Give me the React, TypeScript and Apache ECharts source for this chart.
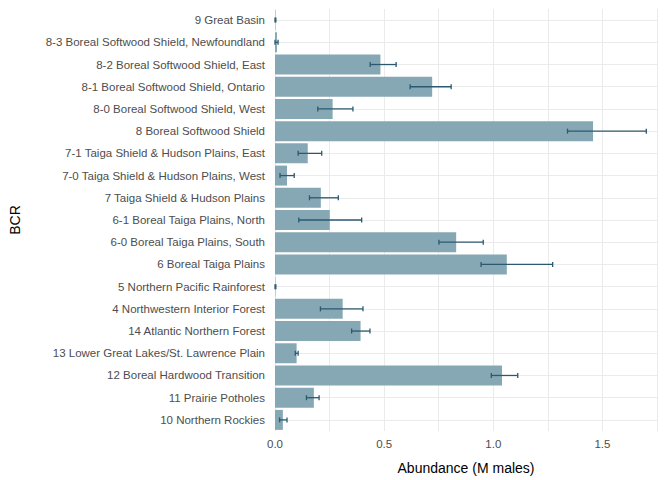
import { useEffect, useRef } from 'react'
import * as echarts from 'echarts'

// bottom → top
const CATEGORIES = [
  '10 Northern Rockies',
  '11 Prairie Potholes',
  '12 Boreal Hardwood Transition',
  '13 Lower Great Lakes/St. Lawrence Plain',
  '14 Atlantic Northern Forest',
  '4 Northwestern Interior Forest',
  '5 Northern Pacific Rainforest',
  '6 Boreal Taiga Plains',
  '6-0 Boreal Taiga Plains, South',
  '6-1 Boreal Taiga Plains, North',
  '7 Taiga Shield & Hudson Plains',
  '7-0 Taiga Shield & Hudson Plains, West',
  '7-1 Taiga Shield & Hudson Plains, East',
  '8 Boreal Softwood Shield',
  '8-0 Boreal Softwood Shield, West',
  '8-1 Boreal Softwood Shield, Ontario',
  '8-2 Boreal Softwood Shield, East',
  '8-3 Boreal Softwood Shield, Newfoundland',
  '9 Great Basin',
]
const ABUNDANCE = [0.036, 0.178, 1.04, 0.099, 0.392, 0.31, 0.002, 1.062, 0.83, 0.251, 0.21, 0.055, 0.15, 1.457, 0.264, 0.72, 0.483, 0.009, 0.002]
const LOWER = [0.021, 0.144, 0.991, 0.093, 0.351, 0.208, 0.0, 0.944, 0.751, 0.109, 0.158, 0.023, 0.106, 1.34, 0.196, 0.619, 0.436, 0.0, 0.0]
const UPPER = [0.055, 0.202, 1.112, 0.106, 0.435, 0.403, 0.004, 1.272, 0.954, 0.397, 0.29, 0.088, 0.214, 1.701, 0.357, 0.807, 0.555, 0.014, 0.004]

const FONT = '"Liberation Sans", Arial, sans-serif'
const BAR = '#86a8b4'
const ERR = '#2b5970'

export default function App() {
  const ref = useRef<HTMLDivElement>(null)

  useEffect(() => {
    if (!ref.current) return
    const chart = echarts.init(ref.current, undefined, { renderer: 'svg' })
    chart.setOption({
      animation: false,
      backgroundColor: '#fff',
      grid: { left: 273, right: 15, top: 9, bottom: 43 },
      xAxis: {
        type: 'value',
        min: 0,
        max: 1.75,
        interval: 0.25,
        name: 'Abundance (M males)',
        nameLocation: 'middle',
        nameGap: 30,
        nameTextStyle: { fontSize: 14, color: '#000', fontFamily: FONT },
        axisLabel: {
          fontSize: 11.5,
          color: '#4d4d4d',
          fontFamily: FONT,
          margin: 7,
          formatter: (v: number) => (Math.abs(v * 2 - Math.round(v * 2)) < 1e-6 ? v.toFixed(1) : ''),
        },
        axisLine: { show: false },
        axisTick: { show: false },
        splitLine: { lineStyle: { color: '#ebebeb', width: 1 } },
      },
      yAxis: {
        type: 'category',
        data: CATEGORIES,
        name: 'BCR',
        nameLocation: 'middle',
        nameGap: 253,
        nameRotate: 90,
        nameTextStyle: { fontSize: 14, color: '#000', fontFamily: FONT },
        axisLabel: { fontSize: 11.5, color: '#4d4d4d', fontFamily: FONT, margin: 10 },
        axisLine: { show: false },
        axisTick: { show: false },
        splitLine: { show: false },
      },
      series: [
        {
          type: 'bar',
          data: ABUNDANCE,
          barCategoryGap: '10%',
          itemStyle: { color: BAR },
          markLine: {
            silent: true,
            symbol: 'none',
            label: { show: false },
            lineStyle: { color: '#ebebeb', width: 1.2, type: 'solid' },
            data: CATEGORIES.map(c => ({ yAxis: c })),
            z: -1,
          },
          z: 2,
        },
        {
          type: 'custom',
          z: 3,
          data: CATEGORIES.map((_, i) => [i, LOWER[i], UPPER[i]]),
          renderItem: (_params: any, api: any) => {
            const i = api.value(0)
            const lo = api.coord([api.value(1), i])
            const hi = api.coord([api.value(2), i])
            const h = 2.5
            const style = { stroke: ERR, lineWidth: 1.3 }
            return {
              type: 'group',
              children: [
                { type: 'line', shape: { x1: lo[0], y1: lo[1], x2: hi[0], y2: hi[1] }, style },
                { type: 'line', shape: { x1: lo[0], y1: lo[1] - h, x2: lo[0], y2: lo[1] + h }, style },
                { type: 'line', shape: { x1: hi[0], y1: hi[1] - h, x2: hi[0], y2: hi[1] + h }, style },
              ],
            }
          },
        },
      ],
    })
    return () => chart.dispose()
  }, [])

  return <div ref={ref} style={{ position: 'fixed', left: 0, top: 0, width: 672, height: 480 }} />
}
